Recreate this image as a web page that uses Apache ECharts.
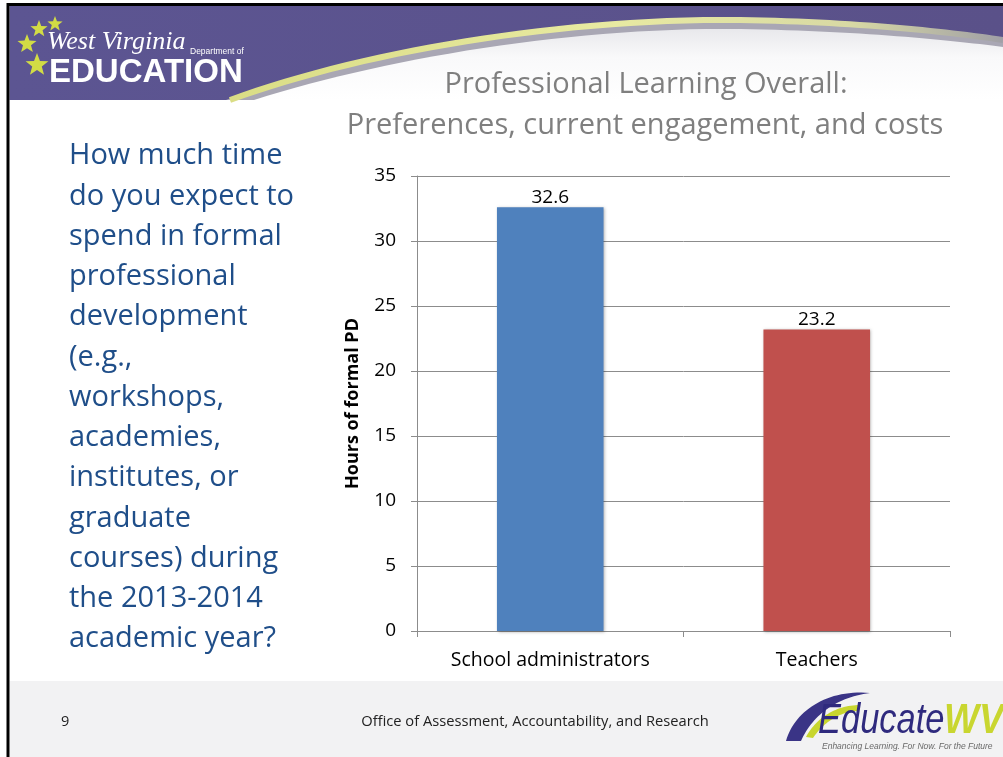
<!DOCTYPE html>
<html>
<head>
<meta charset="utf-8">
<script src="https://cdn.jsdelivr.net/npm/echarts@6/dist/echarts.min.js"></script>
<style>
	html, body { margin: 0; padding: 0; background: #fff; }
	#main { width: 1003px; height: 757px; }
</style>
</head>
<body>
<div id="main"></div>
<script>
(function(){
	'use strict';

	// 数据
	var categories = ['School administrators', 'Teachers'];
	var hours = [32.6, 23.2];
	var barColors = ['#4F81BD', '#C0504D'];
	var axisName = 'Hours of formal PD';
	var titleLines = ['Professional Learning Overall:', 'Preferences, current engagement, and costs'];
	var questionLines = [
		'How much time', 'do you expect to', 'spend in formal', 'professional',
		'development', '(e.g.,', 'workshops,', 'academies,', 'institutes, or',
		'graduate', 'courses) during', 'the 2013-2014', 'academic year?'
	];
	var footerText = 'Office of Assessment, Accountability, and Research';
	var pageNumber = '9';

	var FONT = '"Open Sans", "Liberation Sans", sans-serif';

	function txt(str, x, y, font, fill, align, extra){
		var el = {
			type: 'text', x: x, y: y, silent: true,
			style: {
				text: str, font: font, fill: fill,
				align: align || 'left', textAlign: align || 'left',
				verticalAlign: 'middle', textVerticalAlign: 'middle'
			}
		};
		if (extra) { for (var k in extra) { el[k] = extra[k]; } }
		return el;
	}

	// 三次贝塞尔取点
	function bez(p0, p1, p2, p3){
		var pts = [], t, u, i;
		for (i = 0; i <= 30; i++) {
			t = i / 30; u = 1 - t;
			pts.push([
				u*u*u*p0[0] + 3*u*u*t*p1[0] + 3*u*t*t*p2[0] + t*t*t*p3[0],
				u*u*u*p0[1] + 3*u*u*t*p1[1] + 3*u*t*t*p2[1] + t*t*t*p3[1]
			]);
		}
		return pts;
	}

	function curve(a, b){
		return bez(a[0], a[1], a[2], a[3]).concat(bez(b[0], b[1], b[2], b[3]).slice(1));
	}

	function star(cx, cy, R){
		var pts = [], i, a, r;
		for (i = 0; i < 10; i++) {
			a = -Math.PI / 2 + i * Math.PI / 5;
			r = i % 2 ? R * 0.42 : R;
			pts.push([cx + r * Math.cos(a), cy + r * Math.sin(a)]);
		}
		return { type: 'polygon', silent: true, shape: { points: pts }, style: { fill: '#D2DC45' } };
	}

	var LG = echarts.graphic.LinearGradient;
	var graphics = [];

	// 页眉
	graphics.push({ type: 'rect', silent: true, shape: { x: 9.5, y: 6, width: 994, height: 94 },
		style: { fill: new LG(0, 0, 1, 0, [{ offset: 0, color: '#5C5592' }, { offset: 1, color: '#5A5189' }]) } });

	var shadowEdge = curve([[226, 100], [358, 50], [560, 16], [740, 18]], [[740, 18], [860, 20], [950, 30], [1003, 38]]);
	var whiteEdge = curve([[254, 100], [386, 58], [572, 27], [740, 29]], [[740, 29], [860, 31], [950, 40], [1003, 47]]);
	var yellowEdge = curve([[230, 100], [360, 52], [560, 18], [740, 20]], [[740, 20], [860, 22], [950, 32], [1003, 40]]);

	graphics.push({ type: 'polygon', silent: true, shape: { points: shadowEdge.concat([[1003, 100]]) },
		style: { fill: '#A9A7B4' } });
	graphics.push({ type: 'polygon', silent: true, shape: { points: whiteEdge.concat([[1003, 100]]) },
		style: { fill: new LG(0, 0, 0, 1, [{ offset: 0, color: '#E8E8EC' }, { offset: 0.4, color: '#F9F9FA' }, { offset: 1, color: '#FFFFFF' }]) } });
	graphics.push({ type: 'polyline', silent: true, shape: { points: yellowEdge },
		style: { lineWidth: 6,
			stroke: new LG(0, 0, 1, 0, [{ offset: 0, color: '#DADD85' }, { offset: 0.5, color: '#E8EAA2' }, { offset: 0.8, color: '#D8D9A4' }, { offset: 1, color: '#9F9EA6' }]) } });

	// 州教育部标志
	graphics.push(star(39, 29, 9), star(55, 24, 8), star(27, 44, 10), star(37, 65, 12));
	graphics.push(txt('West Virginia', 47, 42, 'italic 26px "Liberation Serif", serif', '#fff'));
	graphics.push(txt('Department of', 190, 52, '8.5px "Liberation Sans", sans-serif', '#fff'));
	graphics.push(txt('EDUCATION', 49, 73, 'bold 33px "Liberation Sans", sans-serif', '#fff'));

	// 标题
	graphics.push(txt(titleLines[0], 646, 85, '29px ' + FONT, '#7F7F7F', 'center'));
	graphics.push(txt(titleLines[1], 645, 126, '29px ' + FONT, '#7F7F7F', 'center'));

	// 左侧问题
	questionLines.forEach(function(line, i){
		graphics.push(txt(line, 69, 156 + i * 40.25, '29px ' + FONT, '#1F4E89'));
	});

	// 页脚
	graphics.push({ type: 'rect', silent: true, shape: { x: 9.5, y: 681, width: 994, height: 76 }, style: { fill: '#F2F2F3' } });
	graphics.push(txt(pageNumber, 61, 722, '14.5px ' + FONT, '#222'));
	graphics.push(txt(footerText, 535, 722, '14.7px ' + FONT, '#222', 'center'));

	// EducateWV 标志
	graphics.push({ type: 'polygon', silent: true,
		shape: { points: curve([[786, 741], [794, 712], [826, 689], [870, 693]], [[870, 693], [836, 697], [812, 716], [801, 741]]) },
		style: { fill: '#3A3486' } });
	graphics.push({ type: 'polygon', silent: true,
		shape: { points: bez([806, 737], [816, 718], [836, 705], [860, 705]).concat(bez([857, 711], [839, 712], [823, 723], [813, 738])) },
		style: { fill: '#C8D62E' } });
	graphics.push(txt('Educate', 818, 721, 'italic 42px "Liberation Sans", sans-serif', '#2F2A7E', 'left', { scaleX: 0.82 }));
	graphics.push(txt('WV', 944, 721, 'bold italic 42px "Liberation Sans", sans-serif', '#C9D630', 'left', { scaleX: 0.88 }));
	graphics.push(txt('Enhancing Learning. For Now. For the Future', 822, 747, 'italic 8.5px "Liberation Sans", sans-serif', '#6A6A6A'));

	// 边框
	graphics.push({ type: 'rect', silent: true, z: 100, shape: { x: 8, y: 4.5, width: 1100, height: 900 },
		style: { fill: 'none', stroke: '#000', lineWidth: 3 } });

	var myChart = echarts.init(document.getElementById('main'), null, { renderer: 'canvas' });

	var option = {
		backgroundColor: '#fff',
		animation: false,
		grid: { left: 417, right: 53, top: 176, bottom: 126 },
		xAxis: {
			type: 'category',
			data: categories,
			axisLine: { lineStyle: { color: '#8C8C8C', width: 1 } },
			axisTick: { show: true, length: 6, lineStyle: { color: '#8C8C8C' } },
			axisLabel: { fontSize: 19.5, fontFamily: FONT, color: '#000', margin: 19 }
		},
		yAxis: {
			type: 'value',
			min: 0,
			max: 35,
			interval: 5,
			name: axisName,
			nameLocation: 'middle',
			nameGap: 55,
			nameTextStyle: { fontSize: 18, fontWeight: 'bold', fontFamily: FONT, color: '#000' },
			axisLine: { show: true, lineStyle: { color: '#8C8C8C', width: 1 } },
			axisTick: { show: true, length: 6, lineStyle: { color: '#8C8C8C' } },
			axisLabel: { fontSize: 19, fontFamily: FONT, color: '#000', margin: 21 },
			splitLine: { lineStyle: { color: '#8C8C8C', width: 1 } }
		},
		series: [{
			type: 'bar',
			barWidth: '40%',
			data: hours.map(function(v, i){
				return { value: v, itemStyle: { color: barColors[i] } };
			}),
			itemStyle: { shadowBlur: 3, shadowColor: 'rgba(0,0,0,0.3)', shadowOffsetX: 1, shadowOffsetY: 1 },
			label: { show: true, position: 'top', distance: 0, fontSize: 19, fontFamily: FONT, color: '#000' }
		}],
		graphic: graphics
	};

	myChart.setOption(option);
}());
</script>
</body>
</html>
